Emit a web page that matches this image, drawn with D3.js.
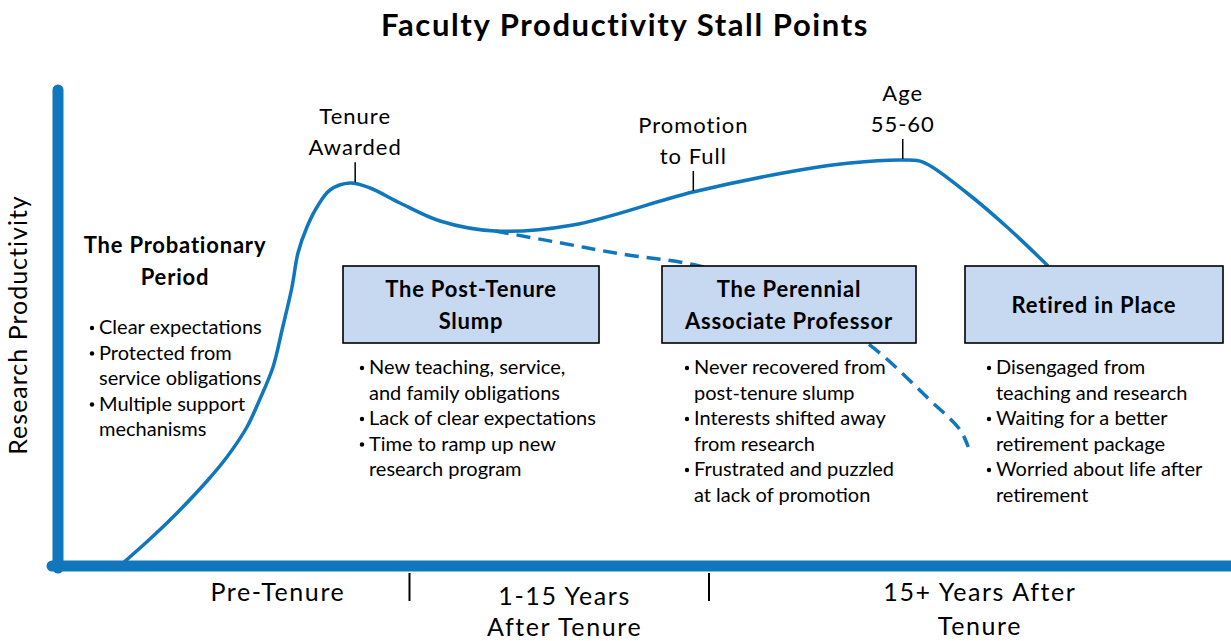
<!DOCTYPE html>
<html><head><meta charset="utf-8">
<script src="https://cdn.jsdelivr.net/npm/d3@7"></script>
<style>body{margin:0;background:#fff}svg{display:block}text{font-family:Lato,"Open Sans",sans-serif;fill:#000}</style>
</head><body><svg id="c" width="1231" height="641"></svg>
<script>
// ---- data ----
const title = "Faculty Productivity Stall Points";
const yAxisLabel = "Research Productivity";
// main productivity curve (time 0-100, productivity 0-100)
const curveTime = [5.56,7.86,9.83,12.74,14.44,16.15,17.26,18.38,19.15,20.0,20.51,21.28,22.14,23.25,24.96,26.67,29.23,32.65,37.35,44.02,54.27,63.42,67.69,72.22,73.93,77.69,81.11,84.62];
const curveProd = [0.63,5.67,10.29,17.86,22.90,29.20,35.08,41.81,49.58,58.61,65.76,71.22,75.42,78.99,80.46,79.41,76.26,72.48,70.38,71.64,78.57,83.19,84.66,85.29,84.87,78.36,71.22,63.03];
// perennial associate professor branch (dashed)
const branchTime = [37.35,42.9,48.0,54.9,62.6,69.4,74.5,77.1,77.8];
const branchProd = [70.38,67.9,65.6,63.0,56.9,46.4,34.9,28.6,25.0];
// milestone annotations
const milestoneNames = [["Tenure","Awarded"],["Promotion","to Full"],["Age","55-60"]];
const milestoneTime = [25.4,54.3,72.2];
// phases on the time axis
const phaseNames = [["Pre-Tenure"],["1-15 Years","After Tenure"],["15+ Years After","Tenure"]];
const phaseLabelTime = [18.8,43.3,78.8];
const phaseBoundaries = [30.0,55.6];
// stall point boxes
const stallTitles = [["The Post-Tenure","Slump"],["The Perennial","Associate Professor"],["Retired in Place"]];
const stallBullets = [
  [["New teaching, service,","and family obligations"],["Lack of clear expectations"],["Time to ramp up new","research program"]],
  [["Never recovered from","post-tenure slump"],["Interests shifted away","from research"],["Frustrated and puzzled","at lack of promotion"]],
  [["Disengaged from","teaching and research"],["Waiting for a better","retirement package"],["Worried about life after","retirement"]]
];
const probTitle = ["The Probationary","Period"];
const probBullets = [["Clear expectations"],["Protected from","service obligations"],["Multiple support","mechanisms"]];

// ---- layout ----
const svg = d3.select("#c");
const blue = "#1177BD";
const x = d3.scaleLinear().domain([0,100]).range([58,1228]);
const y = d3.scaleLinear().domain([0,100]).range([566,90]);

svg.append("text").attr("x",625).attr("y",36).attr("text-anchor","middle")
  .style("font-size","31px").style("font-weight","bold").style("letter-spacing","1.6px").text(title);

svg.append("text").attr("transform","translate(27,325) rotate(-90)").attr("text-anchor","middle")
  .style("font-size","25px").style("letter-spacing","1px").text(yAxisLabel);

// curves
svg.append("path").datum(branchTime.map((t,i)=>[t,branchProd[i]]))
  .attr("d",d3.line().x(d=>x(d[0])).y(d=>y(d[1])).curve(d3.curveCatmullRom))
  .attr("fill","none").attr("stroke",blue).attr("stroke-width",3.5).attr("stroke-dasharray","14,8");
const mainPath = svg.append("path").datum(curveTime.map((t,i)=>[t,curveProd[i]]))
  .attr("d",d3.line().x(d=>x(d[0])).y(d=>y(d[1])).curve(d3.curveCatmullRom.alpha(0.5)))
  .attr("fill","none").attr("stroke",blue).attr("stroke-width",3.5).node();

// axes
const xAxis = d3.axisBottom(x).tickValues(phaseBoundaries).tickSize(35).tickFormat("");
const gx = svg.append("g").attr("transform",`translate(0,${y(0)})`).call(xAxis);
gx.select(".domain").remove();
gx.selectAll(".tick line").attr("stroke","#000").attr("stroke-width",2).attr("y1",7);
svg.append("line").attr("x1",52).attr("x2",1240).attr("y1",y(0)).attr("y2",y(0))
  .attr("stroke",blue).attr("stroke-width",11).attr("stroke-linecap","round");
svg.append("line").attr("x1",x(0)).attr("x2",x(0)).attr("y1",y(100)).attr("y2",y(0)+2)
  .attr("stroke",blue).attr("stroke-width",11).attr("stroke-linecap","round");

const phaseY = [601,605,601], phaseGap = [31,31,34];
phaseNames.forEach((lines,i)=>{
  const t = svg.append("text").attr("text-anchor","middle").style("font-size","25px").style("letter-spacing","1.6px");
  lines.forEach((s,j)=>t.append("tspan").attr("x",x(phaseLabelTime[i])).attr("y",phaseY[i]+j*phaseGap[i]).text(s));
});

// milestones
function yOnCurve(px){
  const L = mainPath.getTotalLength(); let best=null, bd=1e9;
  for(let l=0;l<=L;l+=0.5){const p=mainPath.getPointAtLength(l); const d=Math.abs(p.x-px); if(d<bd){bd=d;best=p;}}
  return best.y;
}
milestoneNames.forEach((lines,i)=>{
  const px = x(milestoneTime[i]); const cy = yOnCurve(px);
  svg.append("line").attr("x1",px).attr("x2",px).attr("y1",cy-1).attr("y2",cy-21).attr("stroke","#000").attr("stroke-width",1.5);
  const t = svg.append("text").attr("text-anchor","middle").style("font-size","22px").style("letter-spacing","1px");
  lines.forEach((s,j)=>t.append("tspan").attr("x",px).attr("y",cy-59+j*31).text(s));
});

// boxes
const boxX = [343,662,965], boxW = [256,254,258];
stallTitles.forEach((lines,i)=>{
  svg.append("rect").attr("x",boxX[i]).attr("y",266).attr("width",boxW[i]).attr("height",77)
    .attr("fill","#C6D9F0").attr("stroke","#000").attr("stroke-width",1.6);
  const cx = boxX[i]+boxW[i]/2;
  const t = svg.append("text").attr("text-anchor","middle").style("font-size","22px").style("font-weight","bold").style("letter-spacing","0.8px");
  const y0 = lines.length===1 ? 313 : 297;
  lines.forEach((s,j)=>t.append("tspan").attr("x",cx).attr("y",y0+j*32).text(s));
});

function bullets(items,bx,y0){
  let row=0;
  items.forEach(lines=>{
    svg.append("circle").attr("cx",bx+2).attr("cy",y0+row*25.5-6).attr("r",2.2).attr("fill","#000");
    lines.forEach(s=>{
      svg.append("text").attr("x",bx+9).attr("y",y0+row*25.5).style("font-size","20px").text(s);
      row++;
    });
  });
}
bullets(stallBullets[0],360,374);
bullets(stallBullets[1],685,374);
bullets(stallBullets[2],987,374);

const pt = svg.append("text").attr("text-anchor","middle").style("font-size","22px").style("font-weight","bold").style("letter-spacing","0.8px");
probTitle.forEach((s,j)=>pt.append("tspan").attr("x",175).attr("y",253+j*32).text(s));
bullets(probBullets,90,334);
</script></body></html>
